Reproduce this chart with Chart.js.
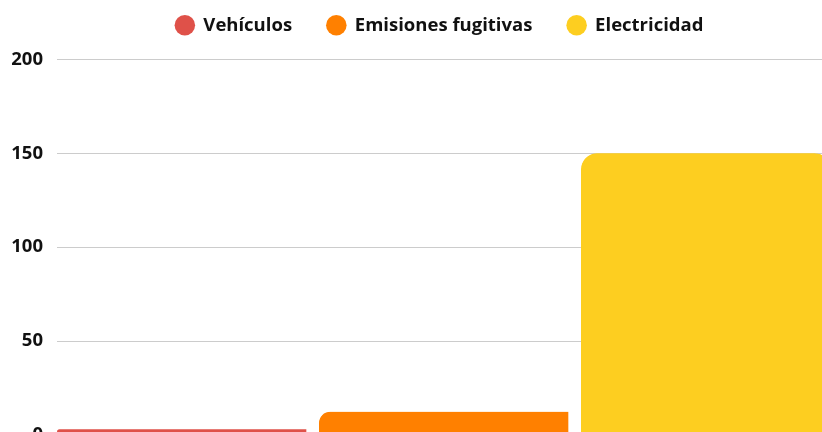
<!DOCTYPE html>
<html>
<head>
<meta charset="utf-8">
<script src="https://cdn.jsdelivr.net/npm/chart.js@4.4.1/dist/chart.umd.min.js"></script>
<style>
	html, body { margin: 0; padding: 0; background: #ffffff; overflow: hidden; }
	.chart-wrap { position: absolute; left: 0; top: 0; width: 880px; height: 460px; }
</style>
</head>
<body>
<div class="chart-wrap"><canvas id="chart"></canvas></div>
<script>
	// Chart values
	const categories = [''];
	const seriesNames = ['Vehículos', 'Emisiones fugitivas', 'Electricidad'];
	const seriesValues = [[3], [12.3], [150]];
	const seriesColors = ['#DF5149', '#FF8000', '#FDCE20'];
	const yTicks = [0, 50, 100, 150, 200];

	const datasets = seriesNames.map(function(name, i) {
		return {
			label: name,
			data: seriesValues[i],
			backgroundColor: seriesColors[i],
			// transparent right border leaves the gap between the bars
			borderColor: 'rgba(0, 0, 0, 0)',
			borderWidth: { top: 0, right: 13, bottom: 0, left: 0 },
			borderSkipped: 'bottom',
			borderRadius: { topLeft: 16, topRight: 29, bottomLeft: 0, bottomRight: 0 },
			barPercentage: 1,
			categoryPercentage: 1
		};
	});

	/**
	 * Extra room under the legend, and nudge it a bit to the right.
	 */
	const legendSpacing = {
		id: 'legendSpacing',
		beforeInit: function(chart) {
			const fit = chart.legend.fit;
			chart.legend.fit = function() {
				fit.bind(chart.legend)();
				this.height += 15;
			};
		},
		afterLayout: function(chart) {
			chart.legend.left += 18;
			chart.legend.right += 18;
		}
	};

	Chart.defaults.font.family = '"Open Sans", sans-serif';
	Chart.defaults.color = '#111111';

	new Chart(document.getElementById('chart').getContext('2d'), {
		type: 'bar',
		data: { labels: categories, datasets: datasets },
		plugins: [legendSpacing],
		options: {
			responsive: true,
			maintainAspectRatio: false,
			animation: false,
			layout: { padding: { left: 0, right: 37, top: -19, bottom: 0 } },
			plugins: {
				legend: {
					display: true,
					position: 'top',
					labels: {
						usePointStyle: true,
						pointStyle: 'circle',
						boxWidth: 19,
						boxHeight: 14.5,
						padding: 35,
						color: '#111111',
						font: { size: 18.5, weight: 'bold' }
					}
				},
				tooltip: { enabled: false }
			},
			scales: {
				x: { display: false },
				y: {
					min: yTicks[0],
					max: yTicks[yTicks.length - 1],
					afterBuildTicks: function(axis) {
						axis.ticks = yTicks.map(function(v) { return { value: v }; });
					},
					afterFit: function(axis) {
						axis.width = 57;
					},
					border: { display: false },
					grid: { color: '#cccccc', drawTicks: false, lineWidth: 1 },
					ticks: {
						padding: 14,
						color: '#111111',
						font: { size: 18.5, weight: 'bold' }
					}
				}
			}
		}
	});
</script>
</body>
</html>
